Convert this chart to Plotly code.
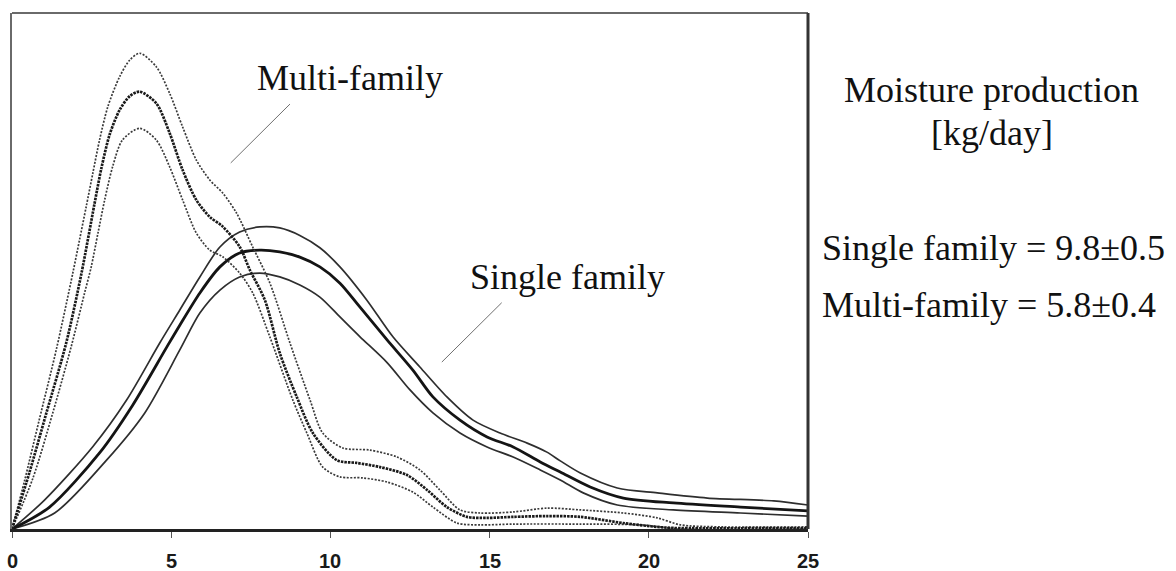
import plotly.graph_objects as go

# Moisture production distributions (x: kg/day, y: relative frequency, arbitrary units)
multi_mean_x = [0, 0.55, 1.08, 1.70, 2.18, 2.59, 2.81, 3.07, 3.38, 3.70, 4.01, 4.53, 4.95, 5.36, 5.79,
                6.21, 6.62, 7.15, 7.47, 7.94, 8.41, 8.94, 9.45, 10.20, 10.83, 11.56, 12.41, 13.04, 13.66,
                14.29, 14.92, 15.74, 16.81, 17.85, 19.20, 20.27, 20.77, 25]
multi_mean_y = [0, 2.20, 4.50, 7.20, 9.90, 12.60, 14.00, 15.30, 16.24, 16.78, 16.95, 16.50, 15.35, 13.91,
                12.75, 12.10, 11.72, 10.94, 10.04, 8.88, 6.82, 5.13, 3.72, 2.67, 2.56, 2.40, 2.09, 1.51,
                0.85, 0.47, 0.43, 0.47, 0.50, 0.47, 0.23, 0.08, 0.04, 0.04]

multi_upper_x = [0, 0.40, 0.85, 1.40, 1.91, 2.12, 2.33, 2.54, 2.75, 3.01, 3.38, 3.70, 4.01, 4.53, 4.95,
                 5.36, 5.79, 6.21, 6.62, 7.05, 7.56, 8.10, 8.73, 9.36, 9.76, 10.39, 11.24, 12.09, 12.81,
                 13.44, 14.07, 14.70, 15.74, 16.81, 17.85, 19.20, 20.27, 20.99, 22.34, 25]
multi_upper_y = [0, 1.90, 4.20, 7.00, 9.92, 11.20, 12.49, 13.80, 15.08, 16.37, 17.53, 18.18, 18.44, 17.92,
                 16.89, 15.58, 14.30, 13.53, 13.02, 12.25, 10.93, 9.53, 7.21, 5.00, 3.72, 3.14, 3.06,
                 2.79, 2.29, 1.51, 0.74, 0.62, 0.66, 0.81, 0.74, 0.62, 0.43, 0.16, 0.08, 0.08]

multi_lower_x = [0, 0.66, 1.28, 1.86, 2.28, 2.49, 2.70, 2.91, 3.16, 3.47, 4.01, 4.53, 4.95, 5.36, 5.79,
                 6.21, 6.62, 7.15, 7.56, 8.10, 8.82, 9.26, 9.76, 10.30, 11.02, 11.78, 12.59, 13.22,
                 13.98, 14.70, 15.74, 17.85, 19.73, 20.99, 25]
multi_lower_y = [0, 1.98, 4.50, 7.07, 9.15, 10.17, 11.47, 12.75, 14.04, 15.08, 15.53, 15.08, 14.04, 12.75,
                 11.47, 10.81, 10.55, 9.92, 9.15, 7.44, 5.00, 3.72, 2.40, 2.02, 1.98, 1.82, 1.43, 0.85,
                 0.23, 0.16, 0.19, 0.19, 0.16, 0.0, 0.0]

single_mean_x = [0, 1.18, 2.75, 3.79, 4.86, 5.27, 5.90, 6.53, 7.15, 7.78, 8.41, 9.04, 9.67, 10.30, 10.93,
                 11.78, 12.59, 13.22, 14.07, 14.92, 15.74, 16.59, 17.22, 18.16, 19.20, 20.77, 22.88, 25]
single_mean_y = [0, 0.85, 2.95, 4.80, 7.05, 7.90, 9.15, 10.16, 10.70, 10.81, 10.74, 10.54, 10.16, 9.53,
                 8.60, 7.33, 6.16, 5.12, 4.22, 3.57, 3.18, 2.60, 2.21, 1.63, 1.20, 1.01, 0.85, 0.70]

single_upper_x = [0, 1.02, 2.53, 3.60, 4.64, 5.27, 5.90, 6.53, 7.15, 7.78, 8.41, 9.04, 9.67, 10.30, 11.14,
                  11.97, 12.81, 13.66, 14.48, 15.33, 16.18, 16.80, 17.22, 17.85, 19.01, 20.27, 21.84,
                  23.92, 25]
single_upper_y = [0, 1.12, 3.18, 5.00, 7.21, 8.49, 9.77, 10.93, 11.51, 11.71, 11.67, 11.38, 10.90, 10.16,
                  8.88, 7.44, 6.28, 5.12, 4.22, 3.72, 3.33, 2.98, 2.64, 2.17, 1.59, 1.40, 1.20, 1.09, 0.93]

single_lower_x = [0, 1.34, 2.97, 4.17, 5.27, 5.90, 6.53, 7.15, 7.78, 8.41, 9.04, 9.67, 10.30, 10.93,
                  11.78, 12.50, 13.22, 14.07, 14.92, 15.74, 16.59, 17.22, 17.94, 19.01, 20.77, 22.88, 25]
single_lower_y = [0, 0.62, 2.67, 4.50, 6.94, 8.37, 9.26, 9.77, 9.92, 9.77, 9.46, 8.99, 8.22, 7.45, 6.45,
                  5.39, 4.50, 3.72, 3.18, 2.79, 2.29, 1.90, 1.40, 0.93, 0.74, 0.62, 0.50]

x_ticks = [0, 5, 10, 15, 20, 25]

curve_labels = ["Multi-family", "Single family"]
side_title = ["Moisture production", "[kg/day]"]
side_values = ["Single family = 9.8±0.5", "Multi-family = 5.8±0.4"]

SERIF = "Liberation Serif, Times New Roman, serif"
SANS = "Liberation Sans, Arial, sans-serif"

fig = go.Figure()


def add_curve(xs, ys, color, width, dash):
    fig.add_trace(go.Scatter(
        x=xs, y=ys, mode="lines", showlegend=False, hoverinfo="skip",
        line=dict(color=color, width=width, dash=dash, shape="spline", smoothing=0.8),
    ))


# single-family band: solid lines, mean drawn heavier
add_curve(single_upper_x, single_upper_y, "#2e2e2e", 1.7, "solid")
add_curve(single_lower_x, single_lower_y, "#2e2e2e", 1.7, "solid")
add_curve(single_mean_x, single_mean_y, "#141414", 2.8, "solid")

# multi-family band: dotted lines, mean drawn heavier
add_curve(multi_upper_x, multi_upper_y, "#3a3a3a", 1.7, "2px,1.5px")
add_curve(multi_lower_x, multi_lower_y, "#3a3a3a", 1.7, "2px,1.5px")
add_curve(multi_mean_x, multi_mean_y, "#1a1a1a", 2.7, "2.5px,1px")

serif_font = dict(family=SERIF, size=36, color="#111")

annotations = [
    dict(x=10.61, y=17.48, xref="x", yref="y", text=curve_labels[0], showarrow=False,
         xanchor="center", yanchor="middle", font=serif_font),
    dict(x=17.44, y=9.77, xref="x", yref="y", text=curve_labels[1], showarrow=False,
         xanchor="center", yanchor="middle", font=serif_font),
    dict(x=1.231, y=0.851, xref="paper", yref="paper", text=side_title[0], showarrow=False,
         xanchor="center", yanchor="middle", font=serif_font),
    dict(x=1.231, y=0.767, xref="paper", yref="paper", text=side_title[1], showarrow=False,
         xanchor="center", yanchor="middle", font=serif_font),
    dict(x=1.015, y=0.545, xref="paper", yref="paper", text=side_values[0], showarrow=False,
         xanchor="left", yanchor="middle", font=serif_font),
    dict(x=1.015, y=0.434, xref="paper", yref="paper", text=side_values[1], showarrow=False,
         xanchor="left", yanchor="middle", font=serif_font),
]

# x tick labels set a little further below the axis than Plotly's default spacing
for t in x_ticks:
    annotations.append(dict(
        x=t, y=-0.062, xref="x", yref="paper", text=str(t), showarrow=False,
        xanchor="center", yanchor="middle",
        font=dict(family=SANS, size=20, color="#1a1a1a", weight="bold"),
    ))

shapes = [
    # leader lines from the labels to their curves
    dict(type="line", xref="x", yref="y", x0=8.73, y0=16.47, x1=6.87, y1=14.19,
         line=dict(color="#707070", width=1)),
    dict(type="line", xref="x", yref="y", x0=15.38, y0=8.77, x1=13.50, y1=6.47,
         line=dict(color="#707070", width=1)),
    # frame: top and right edges
    dict(type="line", xref="paper", yref="paper", x0=0, x1=1, y0=1, y1=1,
         line=dict(color="#6a6a6a", width=2)),
    dict(type="line", xref="paper", yref="paper", x0=1, x1=1, y0=0, y1=1,
         line=dict(color="#333", width=3)),
]

fig.update_layout(
    width=1176, height=571,
    margin=dict(l=12, r=368, t=13, b=42, autoexpand=False),
    paper_bgcolor="white", plot_bgcolor="white",
    annotations=annotations, shapes=shapes,
    xaxis=dict(
        range=[0, 25], tickvals=x_ticks, showticklabels=False,
        ticks="outside", ticklen=6, tickwidth=1, tickcolor="#555",
        showgrid=False, zeroline=False, showline=True, linecolor="#222", linewidth=3,
        automargin=False,
    ),
    yaxis=dict(
        range=[0, 20], showticklabels=False, ticks="", showgrid=False, zeroline=False,
        showline=True, linecolor="#6a6a6a", linewidth=2, automargin=False,
    ),
)

fig.write_html("out.html")
